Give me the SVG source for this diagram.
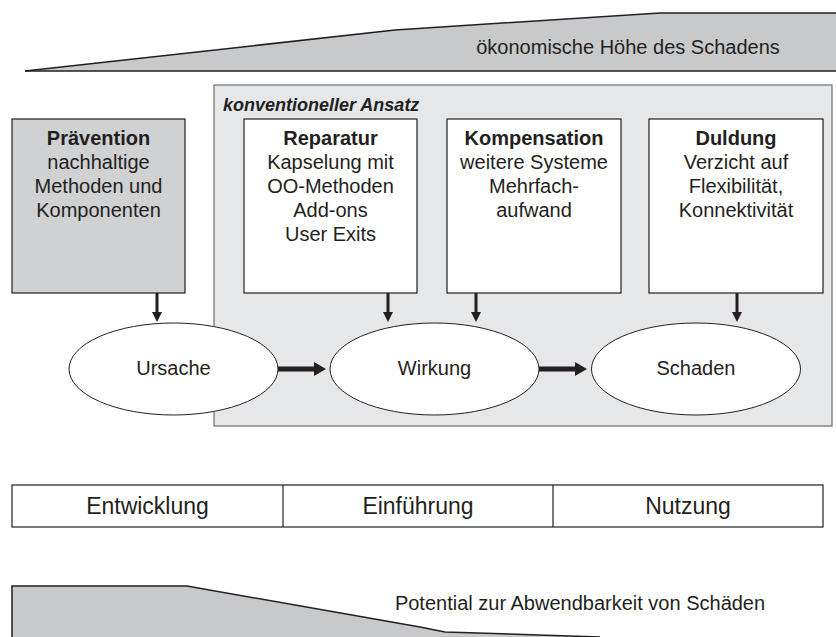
<svg xmlns="http://www.w3.org/2000/svg" width="836" height="637" viewBox="0 0 836 637">
<defs>
<style>
text{font-family:"Liberation Sans",Arial,Helvetica,sans-serif;fill:#231f20;}
.t{font-size:20px;text-anchor:middle;}
.b{font-weight:bold;}
.ph{font-size:23px;text-anchor:middle;}
.box{stroke:#231f20;stroke-width:1.2;}
.ell{fill:#fff;stroke:#231f20;stroke-width:1;}
.wedge{fill:#c8c9cb;stroke:none;}
.edge{fill:none;stroke:#231f20;stroke-width:1.5;}
.av{stroke:#231f20;stroke-width:3;fill:none;}
.ah{stroke:#231f20;stroke-width:5;fill:none;}
</style>
<marker id="mv" markerUnits="userSpaceOnUse" markerWidth="12" markerHeight="12" refX="0" refY="5" orient="auto"><path d="M0,0 L10,5 L0,10 z" fill="#231f20"/></marker>
<marker id="mh" markerUnits="userSpaceOnUse" markerWidth="14" markerHeight="16" refX="0" refY="7" orient="auto"><path d="M0,0 L12,7 L0,14 z" fill="#231f20"/></marker>
</defs>
<rect width="836" height="637" fill="#fff"/>

<g id="wedge-top">
<polygon class="wedge" points="25,71 395,30 660,13 836,13 836,71"/>
<polyline class="edge" points="25,71 395,30 660,13 836,13"/>
<line class="edge" x1="25" y1="71" x2="836" y2="71"/>
<text class="t" x="628" y="54">ökonomische Höhe des Schadens</text>
</g>

<g id="konventionell">
<rect x="214" y="85" width="618" height="341" fill="#e6e7e9" stroke="#6d6e70" stroke-width="1.2"/>
<text x="223" y="111" style="font-size:18px;font-weight:bold;font-style:italic;">konventioneller Ansatz</text>
</g>

<g id="praevention">
<rect class="box" x="12" y="119" width="173" height="174" fill="#d0d1d3"/>
<text class="t b" x="98.5" y="145">Prävention</text>
<text class="t" x="98.5" y="169">nachhaltige</text>
<text class="t" x="98.5" y="193">Methoden und</text>
<text class="t" x="98.5" y="217">Komponenten</text>
</g>

<g id="reparatur">
<rect class="box" x="244" y="119" width="173" height="174" fill="#fff"/>
<text class="t b" x="330.5" y="145">Reparatur</text>
<text class="t" x="330.5" y="169">Kapselung mit</text>
<text class="t" x="330.5" y="193">OO-Methoden</text>
<text class="t" x="330.5" y="217">Add-ons</text>
<text class="t" x="330.5" y="241">User Exits</text>
</g>

<g id="kompensation">
<rect class="box" x="447" y="119" width="174" height="174" fill="#fff"/>
<text class="t b" x="534" y="145">Kompensation</text>
<text class="t" x="534" y="169">weitere Systeme</text>
<text class="t" x="534" y="193">Mehrfach-</text>
<text class="t" x="534" y="217">aufwand</text>
</g>

<g id="duldung">
<rect class="box" x="649" y="119" width="174" height="174" fill="#fff"/>
<text class="t b" x="736" y="145">Duldung</text>
<text class="t" x="736" y="169">Verzicht auf</text>
<text class="t" x="736" y="193">Flexibilität,</text>
<text class="t" x="736" y="217">Konnektivität</text>
</g>

<g id="ursache">
<ellipse class="ell" cx="173.5" cy="369" rx="104.5" ry="46"/>
<text class="t" x="173.5" y="375">Ursache</text>
</g>
<g id="wirkung">
<ellipse class="ell" cx="434.5" cy="369" rx="104.5" ry="46"/>
<text class="t" x="434.5" y="375">Wirkung</text>
</g>
<g id="schaden">
<ellipse class="ell" cx="696" cy="369" rx="104.5" ry="46"/>
<text class="t" x="696" y="375">Schaden</text>
</g>

<g id="connectors">
<line class="av" x1="157" y1="293" x2="157" y2="312" marker-end="url(#mv)"/>
<line class="av" x1="388" y1="293" x2="388" y2="312" marker-end="url(#mv)"/>
<line class="av" x1="476" y1="293" x2="476" y2="312" marker-end="url(#mv)"/>
<line class="av" x1="737" y1="293" x2="737" y2="312" marker-end="url(#mv)"/>
<line class="ah" x1="278" y1="369" x2="314" y2="369" marker-end="url(#mh)"/>
<line class="ah" x1="539" y1="369" x2="575" y2="369" marker-end="url(#mh)"/>
</g>

<g id="phasen">
<rect class="box" x="12" y="485" width="811" height="42" fill="#fff"/>
<line class="box" x1="283" y1="485" x2="283" y2="527"/>
<line class="box" x1="553" y1="485" x2="553" y2="527"/>
<text class="ph" x="147.5" y="514">Entwicklung</text>
<text class="ph" x="418" y="514">Einführung</text>
<text class="ph" x="688" y="514">Nutzung</text>
</g>

<g id="wedge-bottom">
<polygon class="wedge" points="12,637 12,586 187,586 420,627 445,632 600,637"/>
<polyline class="edge" points="12,637 12,586 187,586 420,627 445,632 600,637"/>
<text class="t" x="580" y="610">Potential zur Abwendbarkeit von Schäden</text>
</g>
</svg>
